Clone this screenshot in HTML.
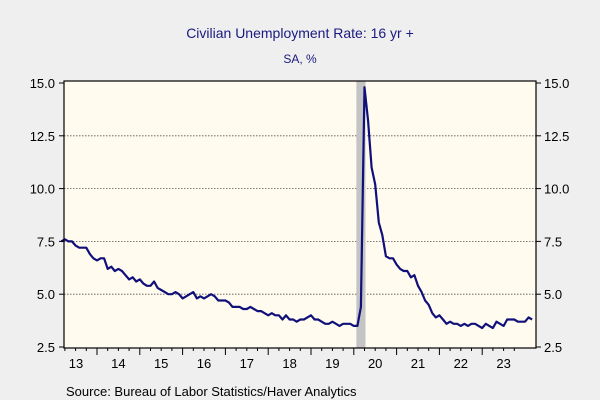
<!DOCTYPE html>
<html><head><meta charset="utf-8"><style>
body{margin:0;background:#efefef;}
svg{display:block;font-family:"Liberation Sans",Arial,sans-serif;}
</style></head><body>
<svg width="600" height="400" viewBox="0 0 600 400">
<rect x="0" y="0" width="600" height="400" fill="#efefef"/>
<text x="300" y="38" text-anchor="middle" font-size="14" fill="#1a1a80">Civilian Unemployment Rate: 16 yr +</text>
<text x="300" y="63" text-anchor="middle" font-size="12" fill="#1a1a80">SA, %</text>
<rect x="64" y="81" width="472" height="267" fill="#fffbef"/>
<g id="grid"></g>
<rect id="rec" fill="#c4c4c4"/>
<path id="line" fill="none" stroke="#10107a" stroke-width="2.2" stroke-linejoin="round"/>
<rect x="64" y="81" width="472" height="267" fill="none" stroke="#000" stroke-width="1.2"/>
<g id="axes"></g>
<text x="66" y="396" font-size="13" fill="#000">Source:  Bureau of Labor Statistics/Haver Analytics</text>
</svg>
<script>
const startYear = 2013, startMonth = 3;
const values = [7.5,7.6,7.5,7.5,7.3,7.2,7.2,7.2,6.9,6.7,
6.6,6.7,6.7,6.2,6.3,6.1,6.2,6.1,5.9,5.7,5.8,5.6,
5.7,5.5,5.4,5.4,5.6,5.3,5.2,5.1,5.0,5.0,5.1,5.0,
4.8,4.9,5.0,5.1,4.8,4.9,4.8,4.9,5.0,4.9,4.7,4.7,
4.7,4.6,4.4,4.4,4.4,4.3,4.3,4.4,4.3,4.2,4.2,4.1,
4.0,4.1,4.0,4.0,3.8,4.0,3.8,3.8,3.7,3.8,3.8,3.9,
4.0,3.8,3.8,3.7,3.6,3.6,3.7,3.6,3.5,3.6,3.6,3.6,
3.5,3.5,4.4,14.8,13.2,11.0,10.2,8.4,7.8,6.8,6.7,6.7,
6.4,6.2,6.1,6.1,5.8,5.9,5.4,5.1,4.7,4.5,4.1,3.9,
4.0,3.8,3.6,3.7,3.6,3.6,3.5,3.6,3.5,3.6,3.6,3.5,
3.4,3.6,3.5,3.4,3.7,3.6,3.5,3.8,3.8,3.8,3.7,3.7,
3.7,3.9,3.8];
const yTicks = [2.5,5.0,7.5,10.0,12.5,15.0];
const yearLabels = ["13","14","15","16","17","18","19","20","21","22","23"];
const recession = [2020+1/12, 2020+3/12];

const X0=64,X1=536,Y0=347,Y1=83;
function xs(t){return 97+(t-2014)*42.8;}
function ys(v){return Y0-(v-2.5)/(15-2.5)*(Y0-Y1);}
const NS="http://www.w3.org/2000/svg";
function mk(tag,attrs,parent){const e=document.createElementNS(NS,tag);for(const k in attrs)e.setAttribute(k,attrs[k]);parent.appendChild(e);return e;}
const grid=document.getElementById('grid'), axes=document.getElementById('axes');
yTicks.forEach(v=>{
  const y=ys(v);
  if(v>2.5&&v<15){const g=mk('line',{x1:X0,x2:X1,y1:y,y2:y,stroke:'#555','stroke-width':0.8,'stroke-dasharray':'1.5,1.5'},grid);
  
  }
  mk('line',{x1:X0-5,x2:X0,y1:y,y2:y,stroke:'#000'},axes);
  mk('line',{x1:X1,x2:X1+5,y1:y,y2:y,stroke:'#000'},axes);
  const l=mk('text',{x:X0-9,y:y+5,'text-anchor':'end','font-size':13},axes);l.textContent=v.toFixed(1);
  
  
  const r=mk('text',{x:X1+8,y:y+5,'font-size':13},axes);r.textContent=v.toFixed(1);
  
  
});
yearLabels.forEach((lab,i)=>{
  const yr=2013+i;
  const xa=xs(yr);
  if(xa>X0) mk('line',{x1:xa,x2:xa,y1:348,y2:355,stroke:'#000'},axes);
  for(let q=1;q<4;q++){const xq=xs(yr+q/4);if(xq>X0&&xq<X1)mk('line',{x1:xq,x2:xq,y1:348,y2:351,stroke:'#000'},axes);}
  const cx=Math.max(xa,X0)+ (Math.min(xs(yr+1),X1)-Math.max(xa,X0))/2;
  const t=mk('text',{x:lab==="13"?76:cx,y:368,'text-anchor':'middle','font-size':13},axes);t.textContent=lab;
  
  
});
const rec=document.getElementById('rec');
rec.setAttribute('x',xs(recession[0])-1);rec.setAttribute('width',xs(recession[1])-xs(recession[0])+2);
rec.setAttribute('y',81);rec.setAttribute('height',267);
let d='';
values.forEach((v,i)=>{const t=startYear+(startMonth-1)/12+i/12;d+=(i?'L':'M')+xs(t).toFixed(1)+','+ys(v).toFixed(1);});
document.getElementById('line').setAttribute('d',d);
</script>
</body></html>
